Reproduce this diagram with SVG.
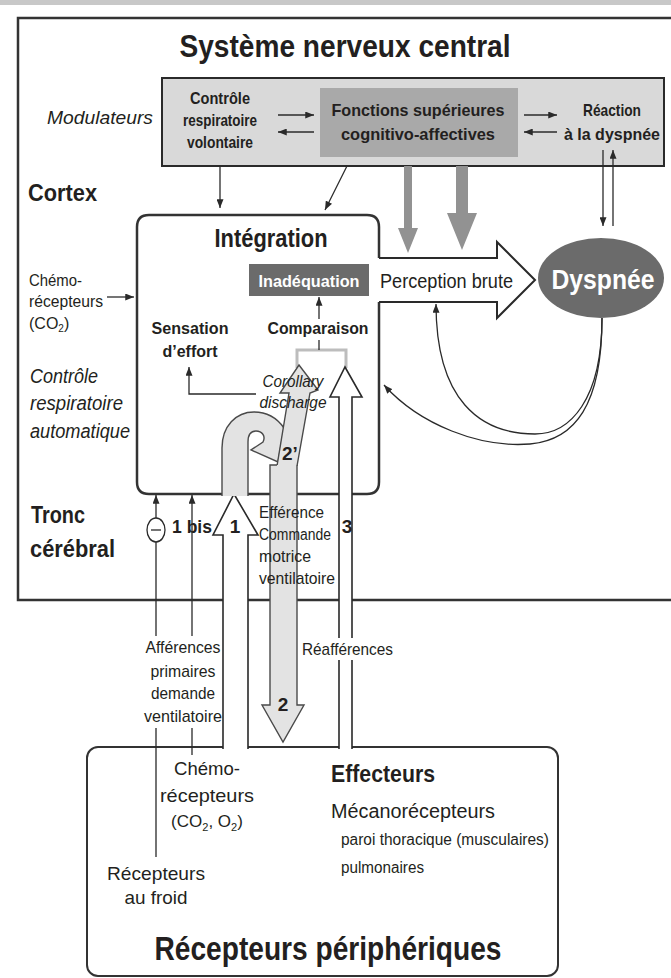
<svg xmlns="http://www.w3.org/2000/svg" width="671" height="978" viewBox="0 0 671 978">
<defs>
<style>
text{font-family:'Liberation Sans Narrow','Liberation Sans',Arial,sans-serif;fill:#231f20}
.b{font-weight:bold}
.i{font-style:italic}
.m{text-anchor:middle}
.ln{fill:none;stroke:#2a2a2a;stroke-width:1.3}
.box{fill:none;stroke:#333;stroke-width:2.5}
.ga{fill:#e3e3e3;stroke:#4a4a4a;stroke-width:1.4}
.wa{fill:#fff;stroke:#2a2a2a;stroke-width:1.6}
.dn{fill:#929292}
</style>
<marker id="ah" viewBox="0 0 10 8" refX="10" refY="4" markerWidth="9" markerHeight="7" orient="auto" markerUnits="userSpaceOnUse"><path d="M0,0 L10,4 L0,8 Z" fill="#2a2a2a"/></marker>
</defs>
<rect x="0" y="0" width="671" height="978" fill="#fff"/>
<rect x="0" y="0" width="671" height="5" fill="#c8c8c8"/>

<g id="cns">
<path class="box" d="M673,18 L18,18 L18,600 L673,600"/>
<text class="b m" x="345" y="57" font-size="32" textLength="331" lengthAdjust="spacingAndGlyphs">Système nerveux central</text>
<text class="b" x="28" y="201" font-size="24" textLength="69" lengthAdjust="spacingAndGlyphs">Cortex</text>
<text class="b" x="31" y="523" font-size="24" textLength="54" lengthAdjust="spacingAndGlyphs">Tronc</text>
<text class="b" x="30" y="557" font-size="24" textLength="85" lengthAdjust="spacingAndGlyphs">cérébral</text>
<text class="i" x="30" y="383" font-size="20" textLength="68" lengthAdjust="spacingAndGlyphs">Contrôle</text>
<text class="i" x="30" y="410" font-size="20" textLength="93" lengthAdjust="spacingAndGlyphs">respiratoire</text>
<text class="i" x="30" y="438" font-size="20" textLength="100" lengthAdjust="spacingAndGlyphs">automatique</text>
</g>

<g id="chemo-central">
<text x="29" y="286" font-size="17" textLength="53" lengthAdjust="spacingAndGlyphs">Chémo-</text>
<text x="29" y="307" font-size="17" textLength="74" lengthAdjust="spacingAndGlyphs">récepteurs</text>
<text x="29" y="329" font-size="16">(CO<tspan font-size="10" dy="3">2</tspan><tspan dy="-3">)</tspan></text>
</g>

<g id="modulateurs">
<text class="i" x="47" y="124" font-size="18" textLength="106" lengthAdjust="spacingAndGlyphs">Modulateurs</text>
<rect x="162" y="78" width="502" height="88" fill="#d9d9d9" stroke="#2a2a2a" stroke-width="2"/>
</g>

<g id="controle-volontaire">
<text class="b m" x="220" y="104" font-size="17" textLength="60" lengthAdjust="spacingAndGlyphs">Contrôle</text>
<text class="b m" x="220" y="126" font-size="17" textLength="74" lengthAdjust="spacingAndGlyphs">respiratoire</text>
<text class="b m" x="220" y="148" font-size="17" textLength="66" lengthAdjust="spacingAndGlyphs">volontaire</text>
</g>

<g id="fonctions">
<rect x="320" y="88" width="198" height="69" fill="#a9a9a9"/>
<text class="b m" x="418" y="116" font-size="17" textLength="173" lengthAdjust="spacingAndGlyphs">Fonctions supérieures</text>
<text class="b m" x="418" y="140" font-size="17" textLength="154" lengthAdjust="spacingAndGlyphs">cognitivo-affectives</text>
</g>

<g id="reaction">
<text class="b m" x="612" y="116" font-size="17" textLength="58" lengthAdjust="spacingAndGlyphs">Réaction</text>
<text class="b m" x="612" y="140" font-size="17" textLength="96" lengthAdjust="spacingAndGlyphs">à la dyspnée</text>
</g>

<g id="integration">
<path class="box" stroke-width="2" d="M379,258 L379,227 Q379,215 367,215 L149,215 Q137,215 137,227 L137,482 Q137,494 149,494 L367,494 Q379,494 379,482 L379,302"/>
<text class="b m" x="271" y="247" font-size="26" textLength="113" lengthAdjust="spacingAndGlyphs">Intégration</text>
</g>

<g id="inadequation">
<rect x="249" y="264" width="120" height="32" fill="#6b6b6b"/>
<text class="b m" x="309" y="287" font-size="17" style="fill:#fff" textLength="101" lengthAdjust="spacingAndGlyphs">Inadéquation</text>
</g>

<g id="comparaison">
<text class="b m" x="318" y="334" font-size="17" textLength="101" lengthAdjust="spacingAndGlyphs">Comparaison</text>
<path d="M297,368 L297,350 L346,350 L346,368" fill="none" stroke="#bdbdbd" stroke-width="3"/>
</g>

<g id="sensation">
<text class="b m" x="190" y="334" font-size="17" textLength="77" lengthAdjust="spacingAndGlyphs">Sensation</text>
<text class="b m" x="190" y="357" font-size="17" textLength="55" lengthAdjust="spacingAndGlyphs">d’effort</text>
</g>

<g id="perception">
<path d="M379,258 L497,258 L497,242 L535,280 L497,318 L497,302 L379,302" fill="#fff" stroke="#2a2a2a" stroke-width="2"/>
<text x="380" y="288" font-size="20" textLength="133" lengthAdjust="spacingAndGlyphs">Perception brute</text>
</g>

<g id="dyspnee">
<ellipse cx="601" cy="278" rx="63" ry="40" fill="#6b6b6b"/>
<text class="b m" x="603" y="289" font-size="27" style="fill:#fff" textLength="103" lengthAdjust="spacingAndGlyphs">Dyspnée</text>
</g>

<g id="peripheriques">
<rect x="87" y="747" width="471" height="229" rx="11" fill="none" stroke="#333" stroke-width="2"/>
<text class="b m" x="328" y="960" font-size="33" textLength="347" lengthAdjust="spacingAndGlyphs">Récepteurs périphériques</text>
<text class="m" x="207" y="775" font-size="19" textLength="66" lengthAdjust="spacingAndGlyphs">Chémo-</text>
<text class="m" x="207" y="802" font-size="19" textLength="94" lengthAdjust="spacingAndGlyphs">récepteurs</text>
<text class="m" x="207" y="827" font-size="17">(CO<tspan font-size="11" dy="4">2</tspan><tspan dy="-4">, O</tspan><tspan font-size="11" dy="4">2</tspan><tspan dy="-4">)</tspan></text>
<text class="m" x="156" y="880" font-size="19" textLength="98" lengthAdjust="spacingAndGlyphs">Récepteurs</text>
<text class="m" x="156" y="904" font-size="19" textLength="63" lengthAdjust="spacingAndGlyphs">au froid</text>
<text class="b" x="331" y="782" font-size="24" textLength="104" lengthAdjust="spacingAndGlyphs">Effecteurs</text>
<text x="331" y="818" font-size="20" textLength="164" lengthAdjust="spacingAndGlyphs">Mécanorécepteurs</text>
<text x="341" y="845" font-size="16" textLength="208" lengthAdjust="spacingAndGlyphs">paroi thoracique (musculaires)</text>
<text x="341" y="873" font-size="16" textLength="83" lengthAdjust="spacingAndGlyphs">pulmonaires</text>
</g>

<g id="connectors">
<path class="dn" d="M404,166 L412,166 L412,228 L418,228 L408,253 L398,228 L404,228 Z"/>
<path class="dn" d="M456,166 L468,166 L468,213 L477,213 L462,250 L447,213 L456,213 Z"/>
<path class="wa" d="M223,749 L223,535 L213,535 L234,494 L258,535 L248,535 L248,749"/>
<path class="wa" d="M339,749 L339,397 L330,397 L345,367 L362,397 L352,397 L352,749"/>
<path class="ga" d="M222,496 L222,448 C222,426 236,412 254,412 C267,412 277,418 284,428 L278,462 L251,450 L263,442 C266,436 262,431 256,431 C250,431 248,436 248,442 L248,496"/>
<path class="ga" d="M277,466 L289,393 L280,393 L299,365 L318,390 L310,393 L297,466"/>
<path class="ga" d="M277,465 L270,465 L270,705 L262,705 L283,742 L304,705 L297,705 L297,465"/>
<path class="ln" marker-end="url(#ah)" d="M220,166 L220,208"/>
<path class="ln" marker-end="url(#ah)" d="M347,166 L325,210"/>
<path class="ln" marker-end="url(#ah)" d="M278,115 L314,115"/>
<path class="ln" marker-end="url(#ah)" d="M314,132 L278,132"/>
<path class="ln" marker-end="url(#ah)" d="M524,115 L557,115"/>
<path class="ln" marker-end="url(#ah)" d="M557,132 L524,132"/>
<path class="ln" marker-end="url(#ah)" d="M603,150 L603,226"/>
<path class="ln" marker-end="url(#ah)" d="M613,226 L613,150"/>
<path class="ln" marker-end="url(#ah)" d="M107,297 L134,297"/>
<path class="ln" marker-end="url(#ah)" d="M319,319 L319,297"/>
<path class="ln" d="M319,340 L319,350"/>
<path class="ln" marker-end="url(#ah)" d="M256,394 L189,394 L189,367"/>
<path class="ln" marker-end="url(#ah)" d="M602,318 C602,400 570,434 535,434 C480,434 436,400 436,304"/>
<path class="ln" marker-end="url(#ah)" d="M602,318 C602,405 575,440 530,444 C480,448 420,425 384,385"/>
<path class="ln" d="M156,857 L156,728 M156,636 L156,542"/>
<path class="ln" marker-end="url(#ah)" d="M156,518 L156,495"/>
<path class="ln" d="M192,755 L192,728"/>
<path class="ln" marker-end="url(#ah)" d="M192,636 L192,495"/>
<ellipse cx="156" cy="530" rx="9" ry="12" fill="#fff" stroke="#2a2a2a" stroke-width="1.3"/>
<path class="ln" d="M151,530 L161,530"/>
</g>

<g id="labels">
<text class="i m" x="293" y="387" font-size="17" textLength="61" lengthAdjust="spacingAndGlyphs">Corollary</text>
<text class="i m" x="293" y="408" font-size="17" textLength="67" lengthAdjust="spacingAndGlyphs">discharge</text>
<text class="b" x="282" y="460" font-size="19">2’</text>
<text class="b m" x="283" y="711" font-size="19">2</text>
<text class="b m" x="235" y="533" font-size="19">1</text>
<text class="b m" x="347" y="533" font-size="19">3</text>
<text class="b" x="172" y="533" font-size="19" textLength="40" lengthAdjust="spacingAndGlyphs">1 bis</text>
<text x="259" y="518" font-size="17" textLength="65" lengthAdjust="spacingAndGlyphs">Efférence</text>
<text x="259" y="540" font-size="16" textLength="72" lengthAdjust="spacingAndGlyphs">Commande</text>
<text x="259" y="562" font-size="17" textLength="52" lengthAdjust="spacingAndGlyphs">motrice</text>
<text x="259" y="584" font-size="17" textLength="76" lengthAdjust="spacingAndGlyphs">ventilatoire</text>
<rect x="300" y="638" width="96" height="22" fill="#fff"/>
<text x="302" y="655" font-size="17" textLength="91" lengthAdjust="spacingAndGlyphs">Réafférences</text>
<text class="m" x="183" y="653" font-size="17" textLength="75" lengthAdjust="spacingAndGlyphs">Afférences</text>
<text class="m" x="183" y="677" font-size="17" textLength="65" lengthAdjust="spacingAndGlyphs">primaires</text>
<text class="m" x="183" y="699" font-size="17" textLength="64" lengthAdjust="spacingAndGlyphs">demande</text>
<text class="m" x="183" y="722" font-size="17" textLength="78" lengthAdjust="spacingAndGlyphs">ventilatoire</text>
</g>
</svg>
